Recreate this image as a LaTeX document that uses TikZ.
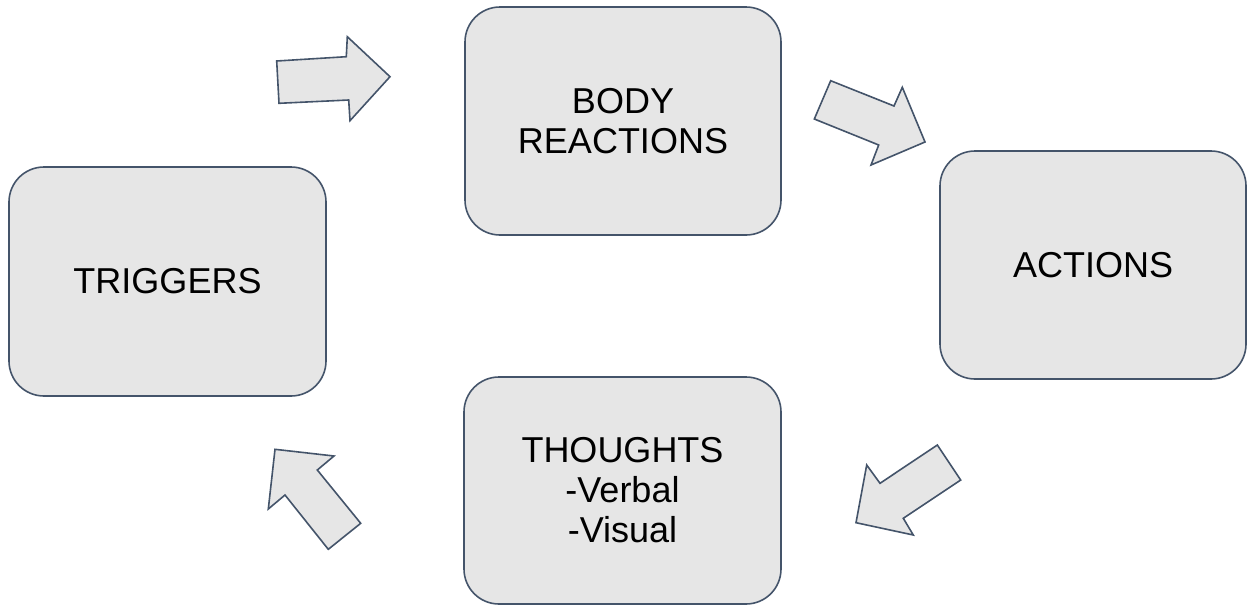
\documentclass[tikz,border=0pt]{standalone}
\usepackage{fontspec}
\setmainfont{Liberation Sans}
\definecolor{boxfill}{HTML}{E6E6E6}
\definecolor{boxline}{HTML}{44546A}
\tikzset{
  card/.style={draw=boxline, fill=boxfill, line width=1.6pt, rounded corners=35pt,
    align=center, font=\fontsize{36}{40}\selectfont, inner sep=0pt},
  blockarrow/.style={draw=boxline, fill=boxfill, line width=1.6pt, line join=miter}
}
\begin{document}
\begin{tikzpicture}[x=1pt,y=-1pt]
\useasboundingbox (0,0) rectangle (1248,606);
\node[card, minimum width=317pt, minimum height=229pt] (trig) at (167.5,281.5) {TRIGGERS};
\node[card, minimum width=316pt, minimum height=228pt] (body) at (623,121) {BODY\\REACTIONS};
\node[card, minimum width=306pt, minimum height=228pt] (act) at (1093,265) {ACTIONS};
\node[card, minimum width=317pt, minimum height=227pt] (thou) at (622.5,490.5) {THOUGHTS\\-Verbal\\-Visual};
% block arrows
\draw[blockarrow] (276.7,61) -- (346.3,56.7) -- (347.3,36.7) -- (390,76.7) -- (350,120.7) -- (348.7,100) -- (279,103.3) -- cycle;
\draw[blockarrow] (830.7,80.7) -- (894,106) -- (902.3,87.3) -- (925,142) -- (871,165) -- (878.7,145) -- (814.3,119) -- cycle;
\draw[blockarrow] (937.3,445) -- (960.7,480) -- (903.3,518.3) -- (913.3,535) -- (856,522.7) -- (866.7,465) -- (880,483.3) -- cycle;
\draw[blockarrow] (275,449.3) -- (334,456) -- (317.3,470) -- (360.7,523.3) -- (328.3,549.3) -- (285,495) -- (268.3,509) -- cycle;
\end{tikzpicture}
\end{document}
